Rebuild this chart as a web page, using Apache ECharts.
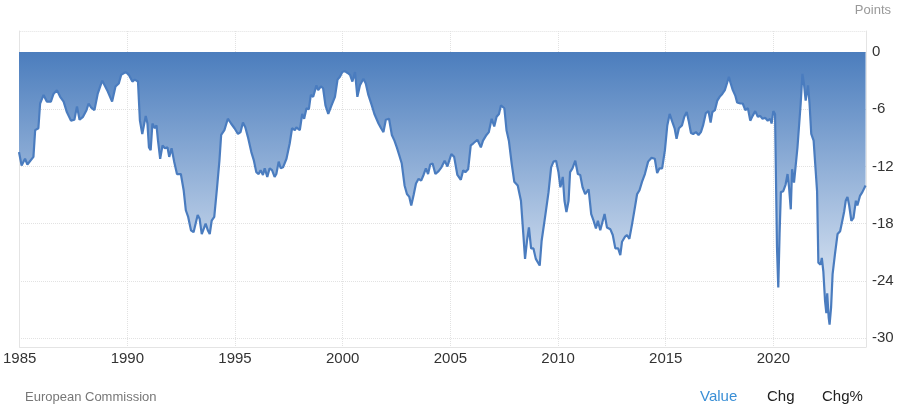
<!DOCTYPE html>
<html>
<head>
<meta charset="utf-8">
<script src="https://cdn.jsdelivr.net/npm/echarts@6/dist/echarts.min.js"></script>
<style>
html,body{margin:0;padding:0;background:#fff;}
#chart{width:900px;height:410px;}
</style>
</head>
<body>
<div id="chart"></div>
<script>
// Time positions (decimal years)
const years = [
1985.00,1985.12,1985.28,1985.39,1985.67,1985.75,1985.90,1985.98,1986.14,1986.29,1986.48,1986.60,1986.76,1986.91,
1987.07,1987.22,1987.41,1987.57,1987.69,1987.81,1987.97,1988.13,1988.23,1988.34,1988.50,1988.65,1988.86,1989.09,
1989.32,1989.48,1989.63,1989.74,1989.95,1990.10,1990.26,1990.37,1990.52,1990.61,1990.72,1990.88,1990.96,1991.03,
1991.11,1991.19,1991.30,1991.38,1991.45,1991.55,1991.66,1991.77,1991.89,1991.97,1992.08,1992.20,1992.33,1992.51,
1992.64,1992.74,1992.85,1992.98,1993.10,1993.16,1993.29,1993.38,1993.48,1993.57,1993.66,1993.76,1993.85,1993.94,
1994.06,1994.19,1994.30,
1994.38,1994.53,1994.69,1994.84,1995.00,1995.16,1995.28,1995.39,1995.50,1995.62,1995.78,1995.90,1996.01,1996.12,
1996.21,1996.32,1996.40,1996.52,1996.63,1996.74,1996.86,1996.94,1997.05,1997.14,1997.25,1997.41,1997.56,1997.67,
1997.80,1997.87,1998.03,1998.14,1998.23,1998.34,1998.45,1998.54,1998.65,1998.80,1998.88,1999.01,1999.11,1999.22,
1999.35,1999.50,1999.66,1999.78,1999.89,2000.00,2000.12,2000.25,2000.36,2000.47,2000.59,2000.70,2000.82,2000.98,
2001.09,2001.21,2001.37,2001.49,2001.68,2001.80,2001.91,2002.02,2002.17,2002.30,2002.42,2002.53,2002.64,2002.76,
2002.89,2003.00,2003.11,2003.20,2003.31,2003.42,2003.54,2003.66,2003.77,2003.88,2003.98,2004.08,2004.19,2004.32,
2004.47,
2004.60,2004.75,2004.88,2005.06,2005.19,2005.34,2005.50,2005.61,2005.71,2005.84,2005.96,2006.07,2006.27,2006.43,
2006.53,2006.69,2006.80,2006.93,2007.05,2007.16,2007.27,2007.36,2007.52,2007.62,2007.73,2007.86,2007.98,2008.14,
2008.29,2008.40,2008.48,2008.57,2008.66,2008.76,2008.87,2008.98,2009.07,2009.16,2009.25,2009.41,2009.57,2009.69,
2009.80,2009.92,2010.03,2010.12,2010.23,2010.31,2010.40,2010.50,2010.57,2010.68,2010.81,2010.93,2011.04,2011.15,
2011.27,2011.43,2011.55,2011.66,2011.77,2011.86,2011.97,2012.17,2012.28,2012.44,2012.55,2012.67,2012.80,2012.90,
2012.98,2013.11,2013.21,2013.32,2013.45,2013.57,2013.68,2013.79,2013.91,2014.04,2014.19,2014.35,2014.50,2014.61,
2014.72,2014.84,2014.97,2015.08,2015.19,2015.31,2015.42,2015.51,2015.62,
2015.64,2015.76,2015.87,2015.98,2016.07,2016.18,2016.28,2016.41,2016.53,2016.64,2016.74,2016.87,2016.99,2017.09,
2017.17,2017.29,2017.40,2017.51,2017.63,2017.75,2017.86,2017.94,2018.01,2018.12,2018.24,2018.32,2018.47,2018.58,
2018.70,2018.82,2018.93,2019.04,2019.16,2019.28,2019.39,2019.50,2019.62,2019.74,2019.85,2019.92,2020.00,2020.08,
2020.12,2020.17,2020.23,2020.29,2020.35,2020.46,2020.57,2020.66,2020.73,2020.81,2020.87,2020.96,2021.02,2021.12,
2021.18,2021.27,2021.35,2021.42,2021.50,2021.61,2021.68,2021.76,2021.87,2021.94,2022.03,2022.09,2022.19,2022.25,
2022.32,2022.40,2022.46,2022.50,2022.57,2022.61,2022.68,2022.75,2022.86,2022.98,2023.10,2023.22,2023.29,2023.36,
2023.44,2023.52,2023.62,2023.72,2023.83,2023.90,2024.02,2024.13,2024.28
];

// Consumer confidence values (points)
const values = [
-10.5,-11.9,-11.2,-11.8,-11.0,-8.2,-8.0,-5.4,-4.5,-5.2,-5.2,-4.4,-4.0,-4.7,
-5.2,-6.3,-7.2,-7.1,-5.7,-7.1,-6.8,-6.1,-5.4,-5.8,-6.1,-4.4,-3.0,-4.0,
-5.2,-3.6,-3.3,-2.4,-2.1,-2.4,-3.1,-2.9,-3.1,-7.2,-8.6,-6.7,-7.5,-10.0,
-10.3,-7.5,-8.0,-7.7,-9.3,-11.2,-9.8,-10.1,-10.0,-11.0,-10.1,-11.5,-12.8,-12.8,
-14.5,-16.6,-17.3,-18.7,-18.9,-18.7,-17.1,-17.5,-19.1,-19.0,-18.0,-18.7,-19.1,-17.7,
-17.3,-14.2,-11.4,
-8.7,-8.2,-7.0,-7.5,-8.0,-8.6,-8.4,-7.4,-7.9,-8.9,-10.5,-11.4,-12.6,-12.8,
-12.4,-12.9,-12.2,-13.1,-12.2,-12.4,-13.1,-12.8,-11.5,-12.2,-12.1,-11.2,-9.6,-8.0,
-8.2,-7.9,-8.2,-6.5,-7.0,-5.9,-6.0,-4.5,-4.7,-3.5,-4.0,-3.6,-3.8,-5.6,
-6.5,-5.6,-4.7,-2.9,-2.6,-2.1,-2.0,-2.2,-2.4,-3.1,-2.1,-4.7,-3.5,-2.8,
-3.3,-4.5,-5.6,-6.5,-7.5,-8.0,-8.4,-7.1,-7.0,-8.7,-9.3,-10.0,-10.8,-11.7,
-14.0,-14.9,-15.2,-16.1,-15.0,-13.8,-13.3,-13.5,-12.9,-12.2,-12.8,-11.8,-11.7,-12.8,
-12.5,
-12.1,-11.4,-12.0,-10.7,-11.0,-12.9,-13.4,-12.4,-12.6,-12.3,-9.8,-9.6,-9.2,-10.0,
-9.3,-8.7,-8.4,-7.0,-7.8,-6.8,-6.5,-5.6,-5.9,-8.2,-9.3,-11.7,-13.6,-14.0,
-15.6,-19.1,-21.7,-19.8,-18.4,-20.6,-20.6,-21.7,-21.9,-22.4,-19.8,-17.3,-14.7,-12.1,
-11.5,-11.4,-12.6,-14.2,-13.1,-15.6,-16.8,-15.6,-12.6,-12.2,-11.4,-12.8,-12.9,-14.2,
-14.9,-14.4,-17.0,-17.7,-18.5,-17.7,-18.7,-17.0,-18.4,-18.6,-19.2,-20.6,-20.6,-21.3,
-19.9,-19.4,-19.2,-19.6,-18.0,-16.4,-14.9,-14.5,-13.6,-12.8,-11.5,-11.1,-11.2,-12.7,
-12.2,-12.2,-10.3,-7.7,-6.5,-7.3,-8.0,-9.1,-8.0,
-8.2,-7.7,-6.8,-6.3,-7.2,-8.5,-8.6,-8.4,-8.7,-8.4,-7.7,-6.4,-6.2,-7.4,
-6.3,-6.1,-5.1,-4.7,-4.4,-4.0,-3.2,-2.6,-3.2,-4.0,-4.6,-5.3,-5.4,-5.4,
-6.1,-5.9,-7.2,-6.7,-6.2,-6.8,-6.7,-7.0,-6.9,-7.2,-7.0,-7.5,-6.2,-6.5,
-12.8,-20.5,-24.7,-19.1,-14.7,-14.6,-13.9,-12.8,-14.2,-16.5,-12.3,-13.7,-13.7,-10.0,
-9.8,-5.4,-2.3,-3.3,-5.1,-3.5,-5.4,-8.6,-9.3,-9.3,-14.6,-22.1,-22.3,-21.6,
-23.0,-26.1,-27.4,-25.3,-27.9,-28.6,-26.8,-23.3,-21.2,-19.1,-18.8,-17.5,-16.7,-15.6,
-15.2,-16.1,-17.7,-17.4,-15.6,-16.1,-15.1,-14.7,-14.0
];

const yTicks = [0, -6, -12, -18, -24, -30];
const xTickYears = [1985, 1990, 1995, 2000, 2005, 2010, 2015, 2020];

const xMin = 1985, xMax = 2024.3;
const seriesData = years.map((y, i) => [y, values[i]]);

const FONT = '"Liberation Sans", Arial, sans-serif';
const chart = echarts.init(document.getElementById('chart'), null, {renderer: 'canvas'});

chart.setOption({
  animation: false,
  backgroundColor: '#ffffff',
  grid: [
    {left: 19, right: 34, top: 52, bottom: 72},
    {left: 19, right: 34, top: 31, bottom: 63}
  ],
  xAxis: [
    {gridIndex: 0, type: 'value', min: xMin, max: xMax, interval: 5, show: false},
    {
      gridIndex: 1, type: 'value', min: xMin, max: xMax, interval: 5,
      axisLine: {show: true, lineStyle: {color: '#e4e4e4', width: 1}},
      axisTick: {show: false},
      splitLine: {show: true, lineStyle: {color: '#e2e2e2', type: 'dotted', width: 1}},
      axisLabel: {
        show: true, color: '#333', fontSize: 15, fontFamily: FONT, margin: 4,
        showMaxLabel: false,
        formatter: v => xTickYears.indexOf(Math.round(v)) >= 0 && Math.abs(v - Math.round(v)) < 1e-6 ? String(Math.round(v)) : ''
      }
    }
  ],
  yAxis: [
    {
      gridIndex: 0, type: 'value', position: 'right', min: -30, max: 0, interval: 6,
      axisLine: {show: false}, axisTick: {show: false},
      splitLine: {show: true, lineStyle: {color: '#e2e2e2', type: 'dotted', width: 1}},
      axisLabel: {
        color: '#333', fontSize: 15, fontFamily: FONT, margin: 6,
        formatter: v => yTicks.indexOf(v) >= 0 ? String(v) : ''
      }
    },
    {
      gridIndex: 1, type: 'value', position: 'right', min: 0, max: 1, interval: 1,
      axisLine: {show: true, lineStyle: {color: '#e4e4e4', width: 1}},
      axisTick: {show: false}, axisLabel: {show: false},
      splitLine: {show: true, lineStyle: {color: '#e2e2e2', type: 'dotted', width: 1}}
    },
    {
      gridIndex: 1, type: 'value', position: 'left', min: 0, max: 1, interval: 1,
      axisLine: {show: true, lineStyle: {color: '#e4e4e4', width: 1}},
      axisTick: {show: false}, axisLabel: {show: false}, splitLine: {show: false}
    }
  ],
  series: [{
    type: 'line',
    xAxisIndex: 0, yAxisIndex: 0,
    data: seriesData,
    showSymbol: false,
    smooth: false,
    lineStyle: {color: '#4a7cbf', width: 2.2},
    itemStyle: {color: '#4a7cbf'},
    areaStyle: {
      origin: 'auto',
      opacity: 1,
      color: new echarts.graphic.LinearGradient(0, 0, 0, 1, [
        {offset: 0, color: '#4b7dbd'},
        {offset: 1, color: '#eef3fa'}
      ])
    },
    z: 3
  }],
  graphic: [
    {type: 'text', right: 9, top: 4, style: {text: 'Points', fill: '#999', font: '13px ' + FONT}},
    {type: 'text', left: 25, top: 391, style: {text: 'European Commission', fill: '#777', font: '13px ' + FONT}},
    {type: 'text', left: 700, top: 389, style: {text: 'Value', fill: '#3a8fd6', font: '15px ' + FONT}},
    {type: 'text', left: 767, top: 389, style: {text: 'Chg', fill: '#222', font: '15px ' + FONT}},
    {type: 'text', left: 822, top: 389, style: {text: 'Chg%', fill: '#222', font: '15px ' + FONT}}
  ]
});
</script>
</body>
</html>
